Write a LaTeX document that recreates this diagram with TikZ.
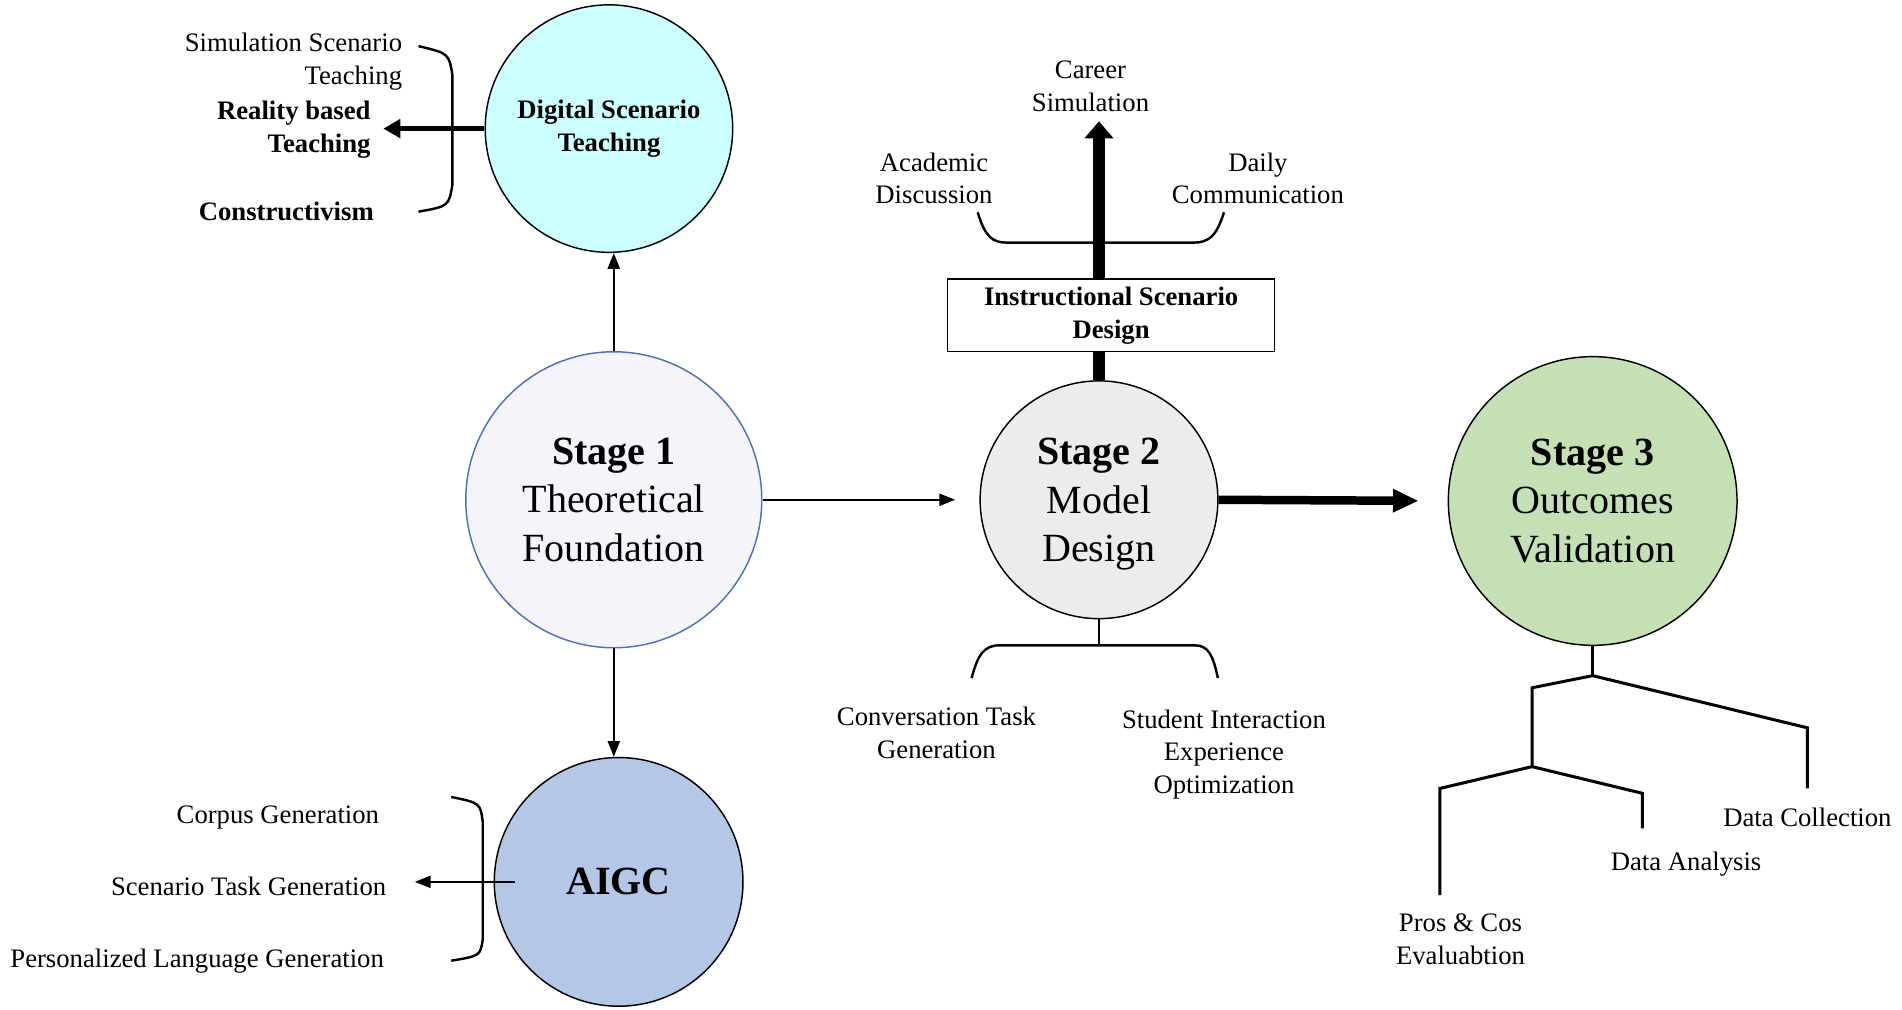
\documentclass[tikz,border=0pt]{standalone}
\usepackage{fontspec}
\setmainfont{Liberation Serif}
\usetikzlibrary{arrows.meta,positioning}
\definecolor{cyanfill}{RGB}{204,255,255}
\definecolor{lavfill}{RGB}{244,244,250}
\definecolor{stageblue}{RGB}{79,111,191}
\definecolor{grayfill}{RGB}{236,236,236}
\definecolor{greenfill}{RGB}{197,224,180}
\definecolor{bluefill}{RGB}{180,199,231}
\tikzset{
  bubble/.style={circle, draw, line width=1.2pt, inner sep=0pt, align=center},
  lbl/.style={font=\fontsize{22}{27}\selectfont, align=center},
  bflbl/.style={font=\fontsize{22}{27}\selectfont\bfseries, align=center},
  stagetxt/.style={font=\fontsize{33}{40}\selectfont, align=center},
  thinarrow/.style={-{Triangle[length=13pt,width=10pt]}, line width=1.5pt},
  medarrow/.style={-{Triangle[length=14pt,width=15pt]}, line width=4pt},
  fatarrow/.style={-{Triangle[length=21pt,width=18pt]}, line width=7pt},
  uparrow/.style={-{Triangle[length=14pt,width=23pt]}, line width=10pt},
  brace/.style={line width=2pt},
  tree/.style={line width=2.5pt},
  scenebox/.style={draw, line width=1pt, fill=white, minimum width=270pt, minimum height=60pt, bflbl}
}
\begin{document}
\begin{tikzpicture}[x=1pt, y=-1pt]
    \useasboundingbox (0,0) rectangle (1568,832.6);
    % stage circles
    \node[bubble, fill=cyanfill, minimum size=204pt, bflbl] (dst) at (502,106) {Digital Scenario\\Teaching};
    \node[bubble, draw=stageblue, fill=lavfill, minimum size=244pt, stagetxt] (s1) at (506,412) {{\bfseries Stage 1}\\Theoretical\\Foundation};
    \node[bubble, fill=grayfill, minimum size=196pt, stagetxt, text depth=0pt] (s2) at (906,412) {{\bfseries Stage 2}\\Model\\Design};
    \node[bubble, fill=greenfill, minimum size=238pt, stagetxt] (s3) at (1313,413) {{\bfseries Stage 3}\\Outcomes\\Validation};
    \node[bubble, fill=bluefill, minimum size=205pt, font=\fontsize{33}{40}\selectfont\bfseries] (aigc) at (510,727) {AIGC};
    \draw[thinarrow] (s1.north) -- (s1.north |- dst.south);
    \draw[thinarrow] (s1.south) -- (s1.south |- aigc.north);
    \draw[thinarrow, shorten >=20pt] (s1.east) -- (s2.west);
    \draw[fatarrow, shorten >=24pt] (s2.east) -- (s3.west);
    % digital scenario teaching
    \coordinate (dsttip) at (316,106);
    \draw[brace] (345,38) .. controls (370,44) .. (373,62) -- (373,152) .. controls (370,170) .. (345,174.5);
    \draw[medarrow] (dst.west) -- (dsttip);
    \node[lbl, align=right, anchor=east] (simtxt) at (335,50.5) {Simulation Scenario\\Teaching};
    \node[bflbl, align=right, anchor=east] (realtxt) at (309,107) {Reality based\\Teaching};
    \node[bflbl] (constxt) at (236,174) {Constructivism};
    % aigc
    \coordinate (aigctip) at (342,727);
    \draw[brace] (372,657) .. controls (396,662) .. (398,678) -- (398,774) .. controls (396,788) .. (372,792);
    \draw[thinarrow] ([xshift=18pt]aigc.west) -- (aigctip);
    \node[lbl, anchor=east] (corpus) at (316,674) {Corpus Generation};
    \node[lbl, anchor=east] (sctask) at (322,731) {Scenario Task Generation};
    \node[lbl, anchor=east] (perslang) at (320,792) {Personalized Language Generation};
    % model design, top
    \coordinate (careertip) at (906,100);
    \draw[brace] (806,175) .. controls (812,195) and (818,200) .. (830,200) -- (984,200) .. controls (996,200) and (1003,195) .. (1009,175);
    \draw[uparrow] (s2.north) -- (careertip);
    \node[scenebox] (isd) at (916,260) {Instructional Scenario\\Design};
    \node[lbl] (career) at (899,71) {Career\\Simulation};
    \node[lbl] (academic) at (770,147) {Academic\\Discussion};
    \node[lbl] (daily) at (1037,147) {Daily\\Communication};
    % model design, bottom
    \coordinate (s2fork) at (906,532);
    \draw[brace] (s2.south) -- (s2fork);
    \draw[brace] (801,559) .. controls (806,540) and (811,532) .. (824,532) -- (985,532) .. controls (996,532) and (1000,540) .. (1004,559);
    \node[lbl] (convtask) at (772,604) {Conversation Task\\Generation};
    \node[lbl] (student) at (1009,622) {Student Interaction\\Experience\\Optimization};
    % outcomes validation tree
    \coordinate (t0) at (1313,557);
    \coordinate (t1) at (1263,632);
    \draw[tree] (s3.south) -- (t0);
    \foreach \from/\x/\ya/\yb in {t0/1263/567/632, t0/1490/600/650, t1/1187/650/738, t1/1354/654/683}
        \draw[tree] (\from) -- (\x,\ya) -- (\x,\yb);
    \node[lbl] (datacoll) at (1490,674) {Data Collection};
    \node[lbl] (dataana) at (1390,712) {Data Analysis};
    \node[lbl] (proscos) at (1204,774) {Pros \& Cos\\Evaluabtion};
\end{tikzpicture}
\end{document}
